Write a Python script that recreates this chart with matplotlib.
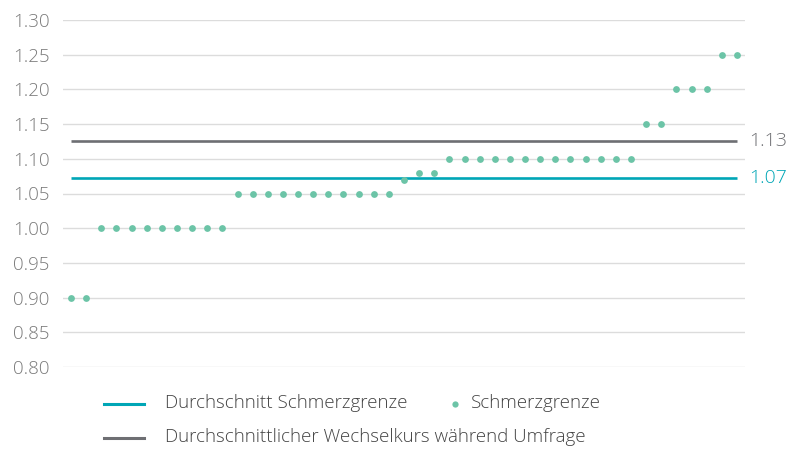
import numpy as np
import matplotlib.pyplot as plt
from matplotlib.lines import Line2D

plt.rcParams['font.family'] = ['Open Sans', 'DejaVu Sans']

# pain threshold per respondent, sorted
werte = [0.90] * 2 + [1.00] * 9 + [1.05] * 11 + [1.07] + [1.08] * 2 + \
        [1.10] * 13 + [1.15] * 2 + [1.20] * 3 + [1.25] * 2
kurs = 1.126
yticks = [0.80, 0.85, 0.90, 0.95, 1.00, 1.05, 1.10, 1.15, 1.20, 1.25, 1.30]

teal = '#00a6b6'
mint = '#6cc4a7'
grau = '#6e6f73'
txt = '#7a7a7a'

werte = np.array(werte)
x = np.arange(len(werte))
mittel = werte.mean()

fig = plt.figure(figsize=(8, 4.49), dpi=100)
ax = fig.add_axes([63 / 800, 1 - 367 / 449, 682 / 800, 347 / 449])

ax.set_ylim(0.80, 1.30)
ax.set_xlim(-0.53, len(werte) - 1 + 0.53)
ax.set_yticks(yticks)
ax.set_yticklabels(['%.2f' % t for t in yticks])
ax.grid(axis='y', color='#dcdcdc', linewidth=1)
ax.set_axisbelow(True)
for s in ax.spines.values():
    s.set_visible(False)
ax.tick_params(axis='y', length=0, pad=9.5, labelsize=13.5, labelcolor=txt)
ax.tick_params(axis='x', length=0, labelbottom=False)
for lab in ax.get_yticklabels():
    lab.set_fontweight('light')

ax.plot([x[0], x[-1]], [kurs, kurs], color=grau, linewidth=1.9, solid_capstyle='butt')
ax.plot([x[0], x[-1]], [mittel, mittel], color=teal, linewidth=1.9, solid_capstyle='butt')
ax.scatter(x, werte, s=24, color=mint, zorder=3, linewidths=0)

ax.text(x[-1] + 0.8, kurs, '%.2f' % kurs, color=grau, fontsize=14,
        va='center', ha='left', fontweight='light', clip_on=False)
ax.text(x[-1] + 0.8, mittel, '%.2f' % mittel, color=teal, fontsize=14,
        va='center', ha='left', fontweight='light', clip_on=False)

# legend
def fx(px):
    return px / 800

def fy(py):
    return 1 - py / 449

fig.add_artist(Line2D([fx(104), fx(144)], [fy(404), fy(404)], color=teal, linewidth=2.2))
fig.add_artist(Line2D([fx(104), fx(144)], [fy(438), fy(438)], color=grau, linewidth=2.2))
fig.add_artist(Line2D([fx(455)], [fy(404)], marker='o', markersize=4.5, color=mint,
                      markeredgewidth=0, linestyle='none'))
legend_kw = dict(fontsize=13.5, color='#444444', va='center', ha='left', fontweight='light')
fig.text(fx(165), fy(403), 'Durchschnitt Schmerzgrenze', **legend_kw)
fig.text(fx(471), fy(403), 'Schmerzgrenze', **legend_kw)
fig.text(fx(165), fy(437), 'Durchschnittlicher Wechselkurs während Umfrage', **legend_kw)

fig.savefig('out.png', dpi=100)
